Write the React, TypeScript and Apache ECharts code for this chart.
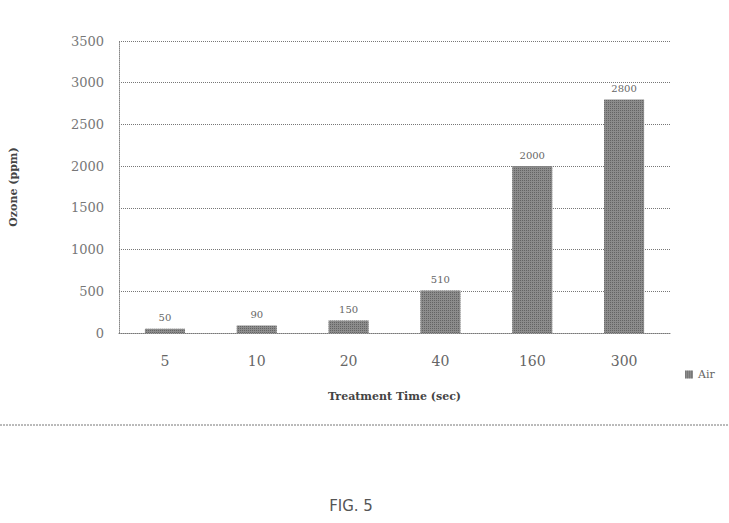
import React, { useEffect, useRef } from "react";
import * as echarts from "echarts";

const categories = ["5", "10", "20", "40", "160", "300"];
const airValues = [50, 90, 150, 510, 2000, 2800];
const yTicks = [0, 500, 1000, 1500, 2000, 2500, 3000, 3500];

export default function App() {
  const ref = useRef<HTMLDivElement>(null);
  useEffect(() => {
    if (!ref.current) return;
    const chart = echarts.init(ref.current, null, { renderer: "svg" });
    const serif = "'DejaVu Serif', 'Liberation Serif', serif";
    chart.setOption({
      animation: false,
      backgroundColor: "#ffffff",
      grid: { left: 118, right: 59, top: 41, bottom: 190, containLabel: false },
      legend: {
        data: ["Air"],
        left: 680,
        top: 364,
        itemWidth: 8,
        itemHeight: 8,
        itemGap: 4,
        icon: "rect",
        textStyle: { fontFamily: serif, fontSize: 11, color: "#666" },
      },
      xAxis: {
        type: "category",
        data: categories,
        name: "Treatment Time (sec)",
        nameLocation: "middle",
        nameGap: 58,
        nameTextStyle: { fontFamily: serif, fontSize: 11, fontWeight: "bold", color: "#444" },
        axisLine: { lineStyle: { color: "#777", type: "dotted", width: 1 } },
        axisTick: { show: false },
        axisLabel: { fontFamily: serif, fontSize: 14, color: "#666", margin: 21 },
      },
      yAxis: {
        type: "value",
        min: 0,
        max: 3500,
        interval: 500,
        name: "Ozone (ppm)",
        nameLocation: "middle",
        nameGap: 100,
        nameRotate: 90,
        nameTextStyle: { fontFamily: serif, fontSize: 11, fontWeight: "bold", color: "#444" },
        axisLine: { show: true, lineStyle: { color: "#888", type: "dotted" } },
        axisTick: { show: false },
        axisLabel: {
          fontFamily: serif,
          fontSize: 13,
          color: "#777",
          margin: 15,
          formatter: (v: number) => (yTicks.includes(v) ? String(v) : ""),
        },
        splitLine: { lineStyle: { color: "#777", type: "dotted", width: 1 } },
      },
      series: [
        {
          name: "Air",
          type: "bar",
          data: airValues,
          barWidth: 40,
          itemStyle: {
            color: "#8c8c8c",
            decal: {
              symbol: "rect",
              symbolSize: 1,
              dashArrayX: [1, 1],
              dashArrayY: [1, 1],
              color: "rgba(60,60,60,0.5)",
              rotation: 0,
            },
          },
          label: {
            show: true,
            position: "top",
            distance: 6,
            fontFamily: serif,
            fontSize: 10,
            color: "#666",
          },
        },
      ],
      graphic: [
        {
          type: "line",
          shape: { x1: 0, y1: 425, x2: 729, y2: 425 },
          style: { stroke: "#777", lineWidth: 1, lineDash: [2, 1] },
        },
        {
          type: "text",
          x: 351,
          y: 506,
          style: {
            text: "FIG. 5",
            fontFamily: "'DejaVu Sans', sans-serif",
            fontSize: 15,
            fill: "#555",
            align: "center",
            verticalAlign: "middle",
          },
        },
      ],
    });
    return () => chart.dispose();
  }, []);
  return <div ref={ref} style={{ width: 729, height: 523, position: "absolute", left: 0, top: 0 }} />;
}
